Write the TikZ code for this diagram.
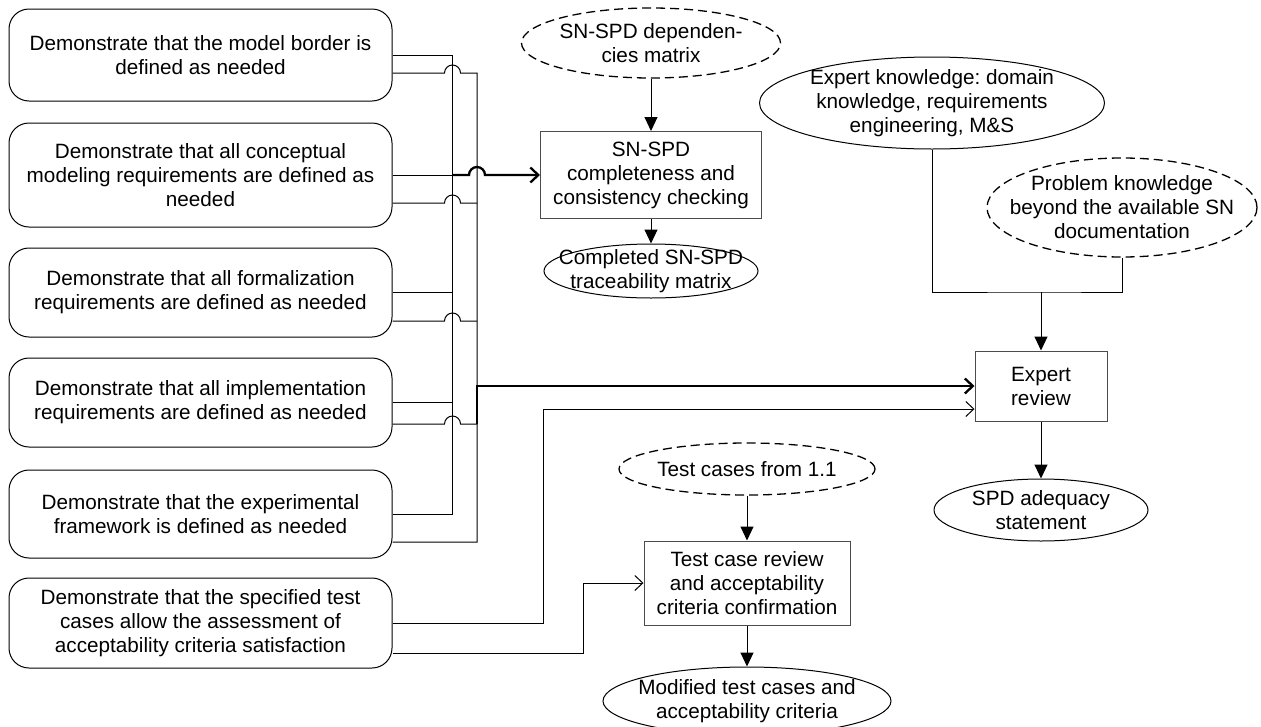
\documentclass[tikz,border=0pt]{standalone}
\usepackage{fontspec}
\setmainfont{Liberation Sans}
\usetikzlibrary{shapes.geometric,arrows.meta}

\begin{document}
\frenchspacing
\begin{tikzpicture}[x=1pt,y=1pt,
  every node/.style={font=\fontsize{20.7}{24}\selectfont, align=center, inner sep=0pt},
  goal/.style={draw, rounded corners=20pt, minimum width=383pt, line width=1pt},
  task/.style={draw=black!70, line width=1pt},
  ell/.style={ellipse, draw, line width=1pt, inner xsep=-40pt, inner ysep=-30pt},
  dell/.style={ell, line width=1.3pt, dash pattern=on 9pt off 5pt},
  wire/.style={line width=1pt},
  bold wire/.style={line width=2.3pt},
  feed/.style={-{Straight Barb[length=8pt,width=15pt]}},
  flow/.style={wire, -{Triangle[length=14pt,width=13pt]}}
]
\useasboundingbox (0,0) rectangle (1261,-726);

% goals on the left
\node[goal, minimum height=92pt]  (b1) at (200.5,-55)   {Demonstrate that the model border is\\defined as needed};
\node[goal, minimum height=104pt] (b2) at (200.5,-175)  {Demonstrate that all conceptual\\modeling requirements are defined as\\needed};
\node[goal, minimum height=89pt]  (b3) at (200.5,-292.5) {Demonstrate that all formalization\\requirements are defined as needed};
\node[goal, minimum height=89pt]  (b4) at (200.5,-402.5) {Demonstrate that all implementation\\requirements are defined as needed};
\node[goal, minimum height=88pt]  (b5) at (200.5,-514)  {Demonstrate that the experimental\\framework is defined as needed};
\node[goal, minimum height=90pt]  (b6) at (200.5,-623)  {Demonstrate that the specified test\\cases allow the assessment of\\acceptability criteria satisfaction};

% checking branch
\node[dell, minimum width=259pt, minimum height=70pt] (dep) at (651,-43) {SN-SPD dependen-\\cies matrix};
\node[task, minimum width=221pt, minimum height=87pt] (chk) at (651,-175) {SN-SPD\\completeness and\\consistency checking};
\node[ell, minimum width=214pt, minimum height=54pt] (trc) at (651,-271) {Completed SN-SPD\\traceability matrix};

% expert review branch
\node[ell, minimum width=345pt, minimum height=92pt] (exk) at (932,-103) {Expert knowledge: domain\\knowledge, requirements\\engineering, M\&S};
\node[dell, minimum width=270pt, minimum height=99pt] (pbk) at (1122,-207.5) {Problem knowledge\\beyond the available SN\\documentation};
\node[task, minimum width=132pt, minimum height=70pt] (rev) at (1041,-386) {Expert\\review};
\node[ell, minimum width=214pt, minimum height=62pt] (adq) at (1041,-510) {SPD adequacy\\statement};

% test case branch
\node[dell, minimum width=256pt, minimum height=52pt] (tc) at (747,-469) {Test cases from 1.1};
\node[task, minimum width=206pt, minimum height=84pt] (tcr) at (747,-583) {Test case review\\and acceptability\\criteria confirmation};
\node[ell, minimum width=288pt, minimum height=68pt] (mod) at (747,-701) {Modified test cases and\\acceptability criteria};

% bus positions and lower outlets
\coordinate (A) at (452,0);
\coordinate (B) at (477,0);
\coordinate (C) at (543,0);
\coordinate (D) at (583,0);
\coordinate (J) at (1041,-292);
\coordinate (b1l) at ([yshift=-18pt]b1.east);
\coordinate (b2l) at ([yshift=-28pt]b2.east);
\coordinate (b3l) at ([yshift=-28.5pt]b3.east);
\coordinate (b4l) at ([yshift=-21.5pt]b4.east);
\coordinate (b5l) at ([yshift=-28pt]b5.east);
\coordinate (b6l) at ([yshift=-30pt]b6.east);
\coordinate (r2) at ([yshift=-23pt]rev.west);

% first bus: into the completeness check
\draw[wire] (b1.east) -- (b1.east -| A) -- (b5.east -| A) -- (b5.east);
\draw[wire] (b2.east) -- (b2.east -| A);
\draw[wire] (b3.east) -- (b3.east -| A);
\draw[wire] (b4.east) -- (b4.east -| A);
\draw[bold wire, feed] (b2.east -| A) -- ++(17,0) arc[start angle=180, end angle=0, radius=8] -- (chk.west);

% second bus: into the expert review (hopping over the first)
\draw[wire] (b1l) -- ++(52,0) arc[start angle=180, end angle=0, radius=8] -- (b1l -| B) -- (b5l -| B) -- (b5l);
\draw[wire] (b2l) -- ++(52,0) arc[start angle=180, end angle=0, radius=8] -- (b2l -| B);
\draw[wire] (b3l) -- ++(52,0) arc[start angle=180, end angle=0, radius=8] -- (b3l -| B);
\draw[wire] (b4l) -- ++(52,0) arc[start angle=180, end angle=0, radius=8] -- (b4l -| B);
\draw[bold wire, feed] (b4l -| B) |- (rev.west);

% test case goal feeds both reviews
\draw[wire, feed] (b6.east) -| (C |- r2) -- (r2);
\draw[wire, feed] (b6l) -| (D |- tcr.west) -- (tcr.west);

% vertical flows
\draw[flow] (dep.south) -- (chk.north);
\draw[flow] (chk.south) -- (trc.north);
\draw[wire] (exk.south) |- (J) -| (pbk.south);
\draw[flow] (J) -- (rev.north);
\draw[flow] (rev.south) -- (adq.north);
\draw[flow] (tc.south) -- (tcr.north);
\draw[flow] (tcr.south) -- (mod.north);
\end{tikzpicture}
\end{document}
